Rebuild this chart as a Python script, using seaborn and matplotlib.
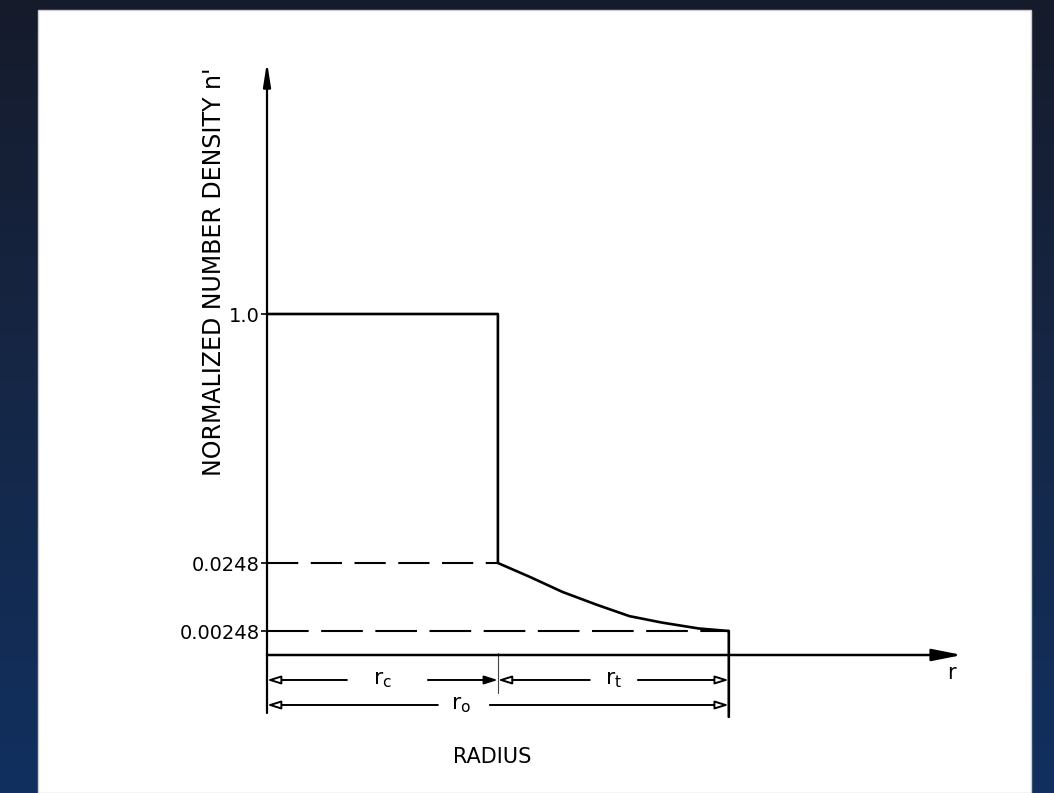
import numpy as np
import matplotlib
matplotlib.use("Agg")
import matplotlib.pyplot as plt
import seaborn as sns
import pandas as pd
from matplotlib.transforms import blended_transform_factory
from matplotlib.patches import Rectangle
from matplotlib.colors import LinearSegmentedColormap
from matplotlib.ticker import NullLocator

# ---------------- data ----------------
core_radius = [0.0, 1.0]            # uniform core, radius in units of r_c
core_density = [1.0, 1.0]
tail_radius = [1.0, 1.14, 1.28, 1.43, 1.57, 1.71, 1.87, 2.0]
tail_density = [0.0248, 0.0154, 0.0093, 0.0060, 0.0041, 0.0033, 0.0027, 0.00248]
level_values = [1.0, 0.0248, 0.00248]
level_labels = ["1.0", "0.0248", "0.00248"]
r_c = 1.0
r_o = 2.0
x_max = 3.01

profile = pd.DataFrame({"r": core_radius + tail_radius,
                        "n": core_density + tail_density})

# ---------------- style ----------------
sns.set_theme(style="white")
plt.rcParams["font.family"] = ["DejaVu Sans"]
plt.rcParams["mathtext.default"] = "regular"
plt.rcParams["text.color"] = "black"
plt.rcParams["axes.labelcolor"] = "black"
plt.rcParams["ytick.color"] = "black"

W, H = 1054, 793
fig = plt.figure(figsize=(W / 100, H / 100), dpi=100)

# background with dark-blue gradient and white sheet
bg = fig.add_axes([0, 0, 1, 1], zorder=-10)
cmap = LinearSegmentedColormap.from_list("bg", ["#161b2b", "#152747", "#11305f"])
bg.imshow(np.linspace(0, 1, 256)[:, None], aspect="auto", cmap=cmap,
          extent=[0, 1, 0, 1], origin="upper")
bg.add_patch(Rectangle((38 / W, 0), (1031 - 38) / W, (H - 10) / H,
                       transform=bg.transAxes, fc="white", ec="#cfcfcf", lw=1))
bg.set_xlim(0, 1)
bg.set_ylim(0, 1)
bg.set_axis_off()

# main axes
ax = fig.add_axes([267 / W, 80 / H, 695 / W, 651 / H])
ax.patch.set_alpha(0)

# schematic (broken-log) density scale
lv = np.log10(np.array(level_values[::-1]))
u_knots = np.array([162.0, 230.0, 479.0])
s_lo = (u_knots[1] - u_knots[0]) / (lv[1] - lv[0])
s_hi = (u_knots[2] - u_knots[1]) / (lv[2] - lv[1])
L = np.r_[lv[0] - 20, lv, lv[2] + 20]
U = np.r_[u_knots[0] - 20 * s_lo, u_knots, u_knots[2] + 20 * s_hi]


def fwd(y):
    y = np.asarray(y, dtype=float)
    return np.interp(np.log10(np.clip(y, 1e-30, None)), L, U)


def inv(u):
    return 10 ** np.interp(np.asarray(u, dtype=float), U, L)


ax.set_yscale("function", functions=(fwd, inv))

sns.lineplot(data=profile, x="r", y="n", sort=False, estimator=None,
             color="black", lw=1.9, ax=ax, solid_joinstyle="round")

ax.set_xlim(0, x_max)
ax.set_ylim(inv(80), inv(731))

# dashed reference levels
ax.plot([0, r_c], [level_values[1]] * 2, color="black", lw=1.5,
        ls=(0, (15, 6)))
ax.plot([0, r_o], [level_values[2]] * 2, color="black", lw=1.5,
        ls=(0, (20, 6)))

# ticks
ax.set_yticks(level_values, level_labels)
ax.yaxis.set_minor_locator(NullLocator())
ax.tick_params(axis="y", length=4, width=1.2, pad=1, labelsize=14,
               direction="out", left=True)
ax.set_xticks([])
ax.set_xlabel("")
ax.set_ylabel("")
sns.despine(ax=ax, left=True, bottom=True)

trans = blended_transform_factory(ax.transData, ax.transAxes)

# axes arrows
ax.annotate("", xy=(0, 1), xytext=(0, 0), xycoords="axes fraction",
            textcoords="axes fraction",
            arrowprops=dict(arrowstyle="-|>,head_length=1.4,head_width=0.22",
                            lw=1.6, color="black", shrinkA=0, shrinkB=0,
                            mutation_scale=10))
y_axis_r = 0.0891
ax.annotate("", xy=(x_max, y_axis_r), xytext=(0, y_axis_r), xycoords=trans,
            textcoords=trans,
            arrowprops=dict(arrowstyle="-|>,head_length=1.8,head_width=0.36",
                            lw=1.8, color="black", shrinkA=0, shrinkB=0,
                            mutation_scale=10))
ax.text(2.965, 0.0614, "r", transform=trans, ha="center", va="center",
        fontsize=15)

# extension lines
ax.annotate("", xy=(r_o, -0.006), xycoords=trans,
            xytext=(r_o, level_values[2]), textcoords="data",
            arrowprops=dict(arrowstyle="-", lw=1.9, color="black",
                            shrinkA=0, shrinkB=0))
ax.plot([r_c, r_c], [y_axis_r + 0.003, 0.0307], transform=trans,
        color="#444444", lw=0.8)


# dimension arrows
def dim(x0, x1, gap0, gap1, y, label, lx, fill_right="white", fill_left="white"):
    for a, b, fc in ((gap0, x0, fill_left), (gap1, x1, fill_right)):
        ax.annotate("", xy=(b, y), xytext=(a, y), xycoords=trans,
                    textcoords=trans,
                    arrowprops=dict(arrowstyle="-|>,head_length=0.8,head_width=0.25",
                                    lw=1.4, ec="black", fc=fc, shrinkA=0,
                                    shrinkB=0, mutation_scale=10))
    ax.text(lx, y, label, transform=trans, ha="center", va="center",
            fontsize=16)


dim(0, r_c, 0.346, 0.697, 0.0507, "$r_c$", 0.50, fill_right="black")
dim(r_c, r_o, 1.398, 1.606, 0.0507, "$r_t$", 1.50)
dim(0, r_o, 0.74, 0.965, 0.0123, "$r_o$", 0.84)

# axis titles
ax.text(0.974, -0.0676, "RADIUS", transform=trans, ha="center", va="center",
        fontsize=15)
fig.text(214 / W, 1 - 272 / H, "NORMALIZED NUMBER DENSITY n'",
         rotation=90, ha="center", va="center", fontsize=17)

fig.savefig("out.png", dpi=100)
